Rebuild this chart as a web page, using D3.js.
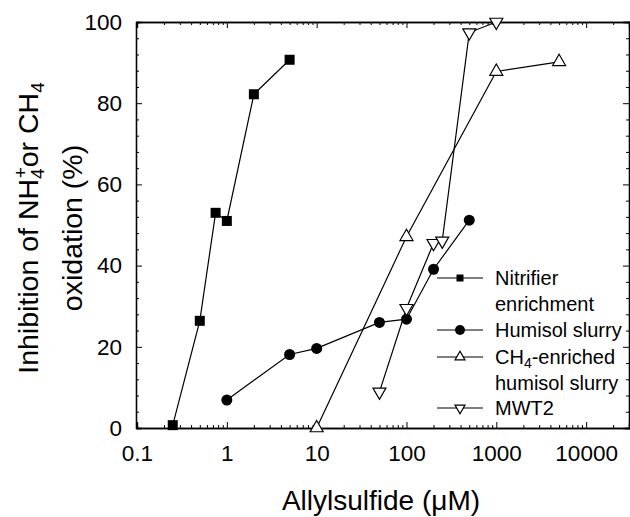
<!DOCTYPE html>
<html lang="en">
<head>
    <meta charset="UTF-8">
    <title>Allylsulfide inhibition</title>
    <script src="https://cdn.jsdelivr.net/npm/d3@7"></script>
    <style>
        body { margin: 0; background: #fff; }
        svg text { font-family: "Liberation Sans", Arial, Helvetica, sans-serif; fill: #000; }
    </style>
</head>
<body>
    <div id="chart"></div>
    <script>
        // data
        const nitrifierX = [0.25, 0.5, 0.75, 1, 2, 5];
        const nitrifierY = [0.7, 26.4, 53, 51, 82.2, 90.7];

        const humisolX = [1, 5, 10, 50, 100, 200, 500];
        const humisolY = [6.9, 18.1, 19.6, 26, 26.8, 39.1, 51.2];

        const ch4X = [10, 100, 1000, 5000];
        const ch4Y = [0, 47.1, 87.8, 90.2];

        const mwt2X = [50, 100, 200, 250, 500, 1000];
        const mwt2Y = [8.9, 29.5, 45.5, 46.1, 97.4, 100];

        const xTicks = [0.1, 1, 10, 100, 1000, 10000];
        const xTickLabels = ["0.1", "1", "10", "100", "1000", "10000"];
        const yTicks = [0, 20, 40, 60, 80, 100];

        const W = 630, H = 517;
        const plotLeft = 137, plotRight = 629, plotTop = 22, plotBottom = 428;

        const svg = d3.select("#chart").append("svg")
            .attr("width", W).attr("height", H);

        const x = d3.scaleLog().domain([0.1, 30000]).range([plotLeft, plotRight]);
        const y = d3.scaleLinear().domain([0, 100]).range([plotBottom, plotTop]);

        // minor tick values
        const xMinor = [];
        for (let p = -1; p <= 4; p++) {
            for (let m = 2; m <= 9; m++) {
                const v = m * Math.pow(10, p);
                if (v < 30000) xMinor.push(v);
            }
        }
        const yMinor = d3.range(0, 101, 4).filter(v => v % 20 !== 0);

        // axes (ticks inward, on all four sides)
        svg.append("g").attr("transform", `translate(0,${plotBottom})`)
            .call(d3.axisBottom(x).tickValues(xTicks).tickSize(-6)
                .tickFormat((d, i) => xTickLabels[i]).tickPadding(17));
        svg.append("g").attr("transform", `translate(0,${plotTop})`)
            .call(d3.axisTop(x).tickValues(xTicks).tickSize(-6).tickFormat(""));
        svg.append("g").attr("transform", `translate(${plotLeft - 1},0)`)
            .call(d3.axisLeft(y).tickValues(yTicks).tickSize(-6).tickPadding(14));
        svg.append("g").attr("transform", `translate(${plotRight},0)`)
            .call(d3.axisRight(y).tickValues(yTicks).tickSize(-6).tickFormat(""));

        svg.append("g").attr("transform", `translate(0,${plotBottom})`)
            .call(d3.axisBottom(x).tickValues(xMinor).tickSize(-3).tickFormat(""));
        svg.append("g").attr("transform", `translate(0,${plotTop})`)
            .call(d3.axisTop(x).tickValues(xMinor).tickSize(-3).tickFormat(""));
        svg.append("g").attr("transform", `translate(${plotLeft - 1},0)`)
            .call(d3.axisLeft(y).tickValues(yMinor).tickSize(-3).tickFormat(""));
        svg.append("g").attr("transform", `translate(${plotRight},0)`)
            .call(d3.axisRight(y).tickValues(yMinor).tickSize(-3).tickFormat(""));

        svg.selectAll(".domain").attr("stroke", "#000").attr("stroke-width", 1.3);
        svg.selectAll(".tick line").attr("stroke", "#000").attr("stroke-width", 1);
        svg.selectAll(".tick text").attr("font-size", 22.5)
            .attr("font-family", "Liberation Sans, Arial, sans-serif").attr("fill", "#000");

        // axis titles
        svg.append("text")
            .attr("x", 381).attr("y", 510)
            .attr("text-anchor", "middle")
            .attr("font-size", 28)
            .text("Allylsulfide (\u03bcM)");

        const yt = svg.append("text")
            .attr("transform", "translate(38,228) rotate(-90)")
            .attr("text-anchor", "middle")
            .attr("font-size", 28.5);
        yt.append("tspan").text("Inhibition of NH");
        yt.append("tspan").attr("font-size", 19).attr("dy", 6).text("4");
        yt.append("tspan").attr("font-size", 19).attr("dx", -10).attr("dy", -17).text("+");
        yt.append("tspan").attr("dy", 11).text("or CH");
        yt.append("tspan").attr("font-size", 19).attr("dy", 6).text("4");

        svg.append("text")
            .attr("transform", "translate(82,228) rotate(-90)")
            .attr("text-anchor", "middle")
            .attr("font-size", 28.5)
            .text("oxidation (%)");

        // marker shapes
        const tri = (s, down) => {
            const h = s * Math.sqrt(3) / 2;
            const a = down ? -1 : 1;
            return `M0,${-a * h * 2 / 3}L${s / 2},${a * h / 3}L${-s / 2},${a * h / 3}Z`;
        };

        const series = [
            { name: "Nitrifier", xs: nitrifierX, ys: nitrifierY, shape: "square" },
            { name: "Humisol", xs: humisolX, ys: humisolY, shape: "circle" },
            { name: "CH4", xs: ch4X, ys: ch4Y, shape: "up" },
            { name: "MWT2", xs: mwt2X, ys: mwt2Y, shape: "down" }
        ];

        const line = d3.line().x(d => x(d[0])).y(d => y(d[1]));

        function drawMarker(g, shape, big) {
            if (shape === "square") {
                const s = big ? 10 : 7;
                g.append("rect").attr("x", -s / 2).attr("y", -s / 2)
                    .attr("width", s).attr("height", s).attr("fill", "#000");
            } else if (shape === "circle") {
                g.append("circle").attr("r", big ? 5.5 : 5).attr("fill", "#000");
            } else {
                g.append("path").attr("d", tri(big ? 13 : 10, shape === "down"))
                    .attr("fill", "#fff").attr("stroke", "#000").attr("stroke-width", 1.2);
            }
        }

        series.forEach(s => {
            const pts = s.xs.map((v, i) => [v, s.ys[i]]);
            svg.append("path").datum(pts)
                .attr("d", line)
                .attr("fill", "none").attr("stroke", "#000").attr("stroke-width", 1.2);
            pts.forEach(p => {
                const g = svg.append("g").attr("transform", `translate(${x(p[0])},${y(p[1])})`);
                drawMarker(g, s.shape, true);
            });
        });

        // legend
        const legendRows = [
            { shape: "square", cy: 278 },
            { shape: "circle", cy: 330 },
            { shape: "up", cy: 357 },
            { shape: "down", cy: 408 }
        ];
        legendRows.forEach(r => {
            svg.append("line").attr("x1", 437).attr("x2", 483)
                .attr("y1", r.cy).attr("y2", r.cy)
                .attr("stroke", "#000").attr("stroke-width", 1.2);
            const g = svg.append("g").attr("transform", `translate(460,${r.cy})`);
            drawMarker(g, r.shape, false);
        });

        const legendText = [
            { t: "Nitrifier", y: 285 },
            { t: "enrichment", y: 311 },
            { t: "Humisol slurry", y: 337 },
            { t: "humisol slurry", y: 390 },
            { t: "MWT2", y: 415 }
        ];
        legendText.forEach(d => {
            svg.append("text").attr("x", 495).attr("y", d.y)
                .attr("font-size", 20).text(d.t);
        });
        const ch = svg.append("text").attr("x", 495).attr("y", 364).attr("font-size", 20);
        ch.append("tspan").text("CH");
        ch.append("tspan").attr("font-size", 14).attr("dy", 4).text("4");
        ch.append("tspan").attr("dy", -4).text("-enriched");
    </script>
</body>
</html>
